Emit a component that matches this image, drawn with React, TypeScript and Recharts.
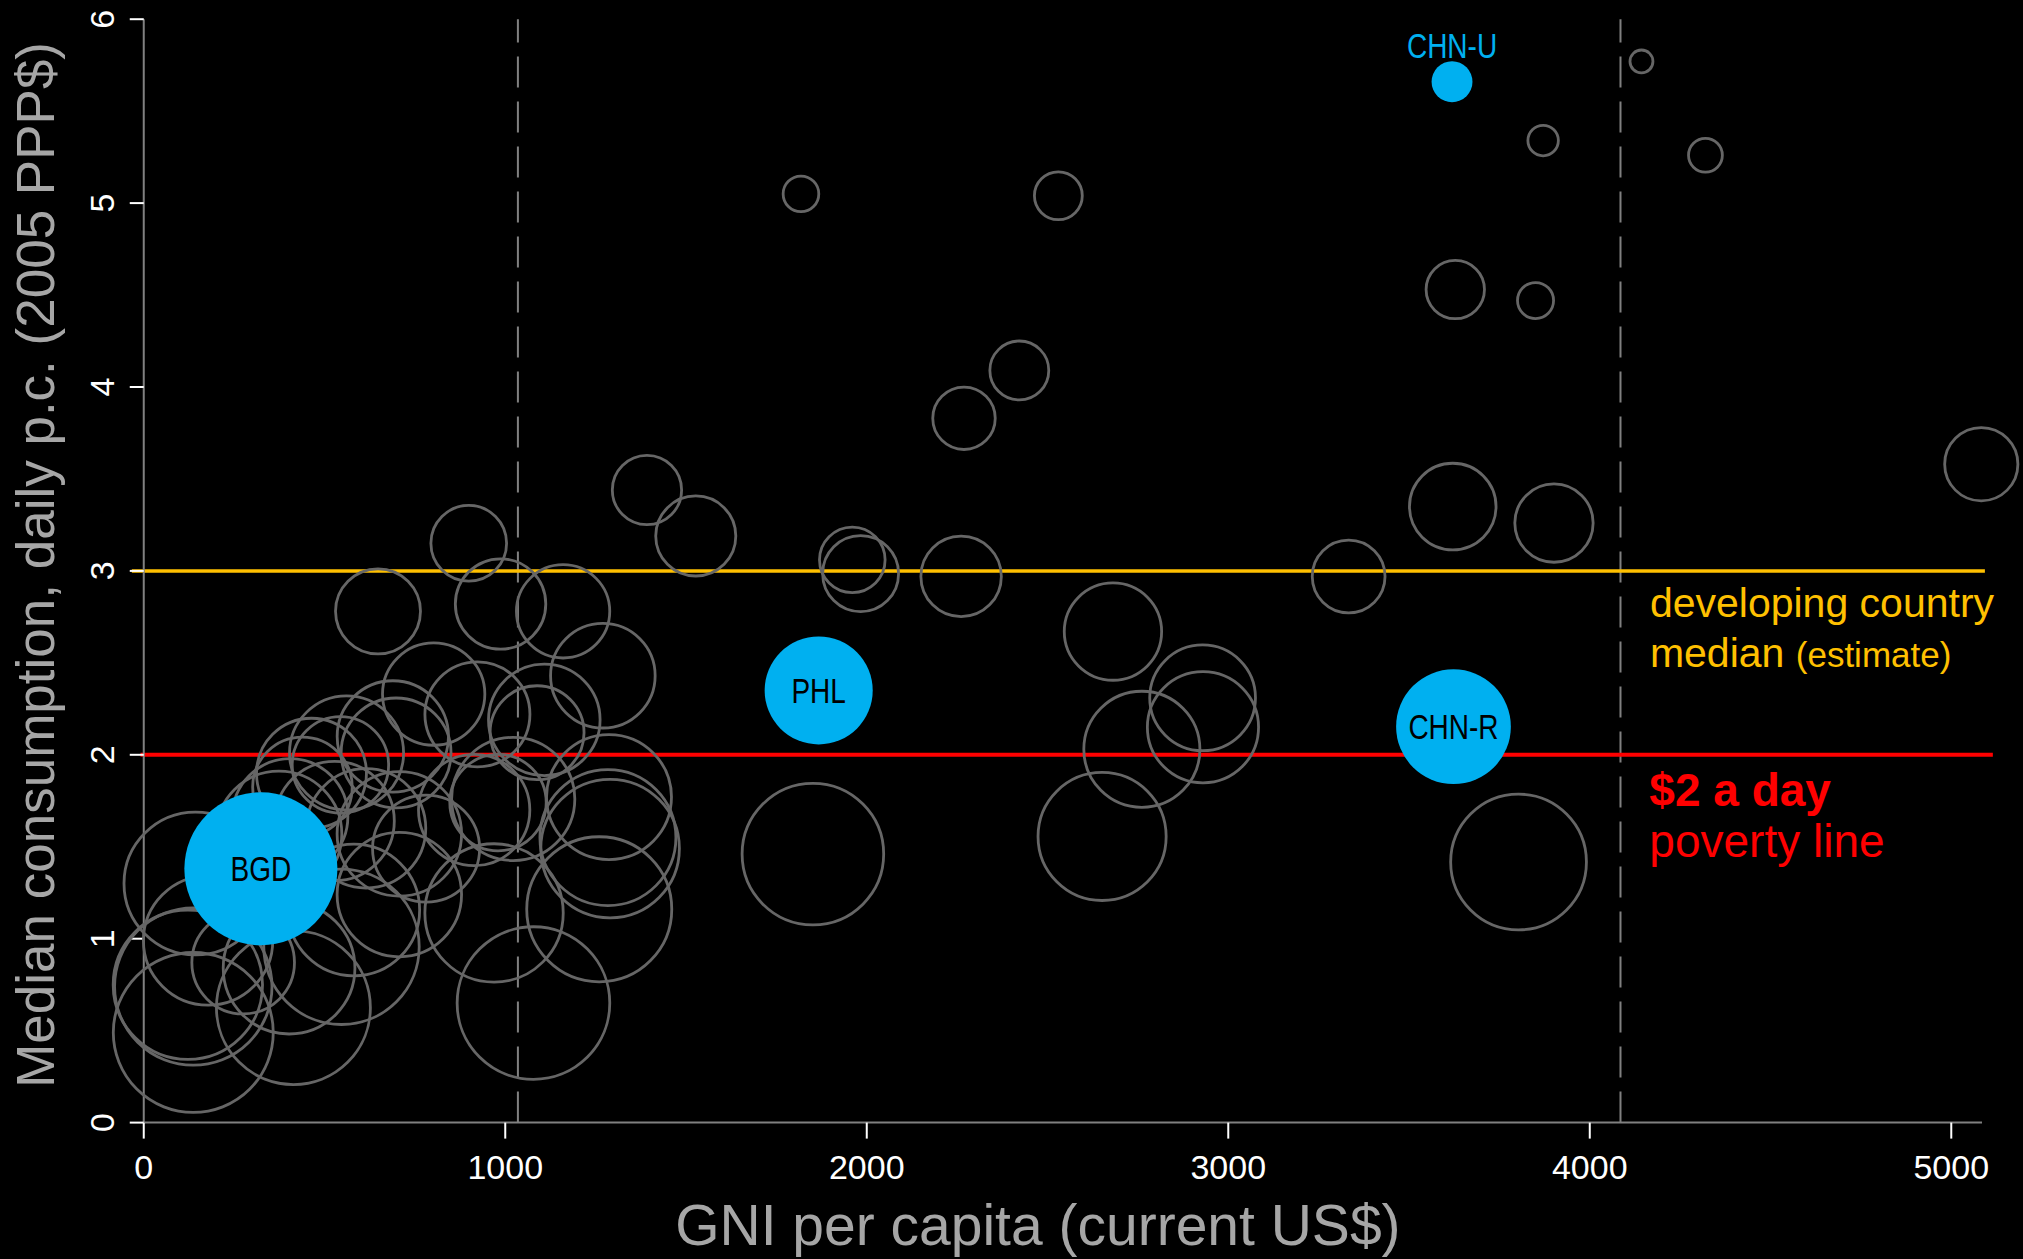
import { ScatterChart, Scatter, XAxis, YAxis, ZAxis, ReferenceLine, Label } from 'recharts'

// grey bubbles: GNI per capita, median daily consumption, $2-a-day headcount (%)
const otherGni = [
  1818, 2530, 4143, 3871, 4320, 3628, 3850, 3621, 3901, 5083,
  3333, 2422, 2269, 1527, 1392, 899, 648, 987, 1160, 1270,
  1960, 1983, 2261, 2681, 1851, 2651, 2761, 2929, 2930, 3803,
  1078, 1260, 969, 1287, 1284, 1290, 802, 923, 1108, 1088,
  1022, 980, 914, 143, 137, 122, 137, 178, 275, 414,
  402, 547, 581, 707, 689, 698, 561, 544, 464, 439,
  405, 374, 528, 615, 707, 781,
]
const otherMedian = [
  5.05, 5.04, 5.77, 5.34, 5.26, 4.53, 4.47, 3.35, 3.26, 3.58,
  2.97, 4.09, 3.83, 3.19, 3.44, 3.15, 2.78, 2.82, 2.78, 2.43,
  3.06, 2.985, 2.97, 2.67, 1.46, 1.556, 2.03, 2.31, 2.15, 1.417,
  0.65, 1.16, 1.14, 1.77, 1.55, 1.49, 2.33, 2.22, 2.19, 2.12,
  1.76, 1.74, 1.7, 1.3, 0.74, 0.75, 0.49, 0.99, 0.87, 0.625,
  0.84, 0.956, 1.156, 1.24, 2.1, 2.01, 2.01, 1.945, 1.9, 1.825,
  1.665, 1.57, 1.64, 1.6, 1.57, 1.49,
]
const otherHeadcount = [
  4.1, 7.4, 1.7, 3.0, 3.7, 11.0, 4.2, 24.2, 19.8, 17.3,
  17.1, 11.2, 12.6, 20.7, 15.5, 18.5, 23.3, 26.4, 28.1, 35.3,
  13.9, 18.6, 20.9, 30.6, 64.7, 53, 43.5, 36.1, 39.9, 59.5,
  75.2, 67.9, 61.8, 50.4, 59.7, 62, 33.8, 35.6, 40.2, 28.5,
  49, 30, 40, 65.9, 80, 72, 82.6, 54, 34, 76.5,
  56, 78, 56, 50, 40, 39, 42, 30, 39, 32,
  43, 51, 46, 46, 50, 37,
]

// highlighted countries
const focusCodes = ['BGD', 'PHL', 'CHN-R', 'CHN-U']
const focusGni = [324, 1867, 3623, 3619]
const focusMedian = [1.38, 2.35, 2.153, 5.66]
const focusHeadcount = [75.6, 37.7, 42.5, 5.4]

const xTicks = [0, 1000, 2000, 3000, 4000, 5000]
const yTicks = [0, 1, 2, 3, 4, 5, 6]
const incomeThresholds = [1035, 4085]
const povertyLine = 2
const developingMedian = 3

const others = otherGni.map((gni, i) => ({ gni, median: otherMedian[i], headcount: otherHeadcount[i] }))
const focus = focusCodes.map((code, i) => ({
  code,
  gni: focusGni[i],
  median: focusMedian[i],
  headcount: focusHeadcount[i],
}))

const BLUE = '#00B0F0'
const GOLD = '#FFC000'
const RED = '#FF0000'
const RING = '#666666'
const AXIS = '#808080'
const TITLE = '#a6a6a6'
const FONT = '"Liberation Sans", Arial, sans-serif'
const FULL_R = 88 // radius of a bubble at 100% headcount

function OpenBubble(props: any) {
  const { cx, cy, width } = props
  return <circle cx={cx} cy={cy} r={width / 2} fill="none" stroke={RING} strokeWidth={2.8} />
}

function FocusBubble(props: any) {
  const { cx, cy, width, payload } = props
  const r = width / 2
  const above = payload.code === 'CHN-U'
  // condensed look: squeeze the label horizontally
  return (
    <g>
      <circle cx={cx} cy={cy} r={r} fill={BLUE} />
      <text
        transform={`translate(${cx},${above ? cy - r - 3 : cy}) scale(0.8,1)`}
        textAnchor="middle"
        dominantBaseline={above ? 'auto' : 'central'}
        fontFamily={FONT}
        fontSize={35}
        fill={above ? BLUE : '#000'}
      >
        {payload.code}
      </text>
    </g>
  )
}

function YTick(props: any) {
  const { x, y, payload } = props
  return (
    <text
      transform={`translate(${x - 28},${y}) rotate(-90)`}
      textAnchor="middle"
      dominantBaseline="central"
      fill="#fff"
      fontSize={34}
      fontFamily={FONT}
    >
      {payload.value}
    </text>
  )
}

function MedianNote({ viewBox }: any) {
  const x = viewBox.x + viewBox.width - 335
  const y = viewBox.y
  return (
    <text fill={GOLD} fontFamily={FONT} fontSize={41}>
      <tspan x={x} y={y + 46}>developing country</tspan>
      <tspan x={x} y={y + 96}>
        median <tspan fontSize={35}>(estimate)</tspan>
      </tspan>
    </text>
  )
}

function PovertyNote({ viewBox }: any) {
  const x = viewBox.x + viewBox.width - 343.5
  const y = viewBox.y
  return (
    <text fill={RED} fontFamily={FONT} fontSize={46}>
      <tspan x={x} y={y + 51} fontWeight="bold">$2 a day</tspan>
      <tspan x={x} y={y + 102}>poverty line</tspan>
    </text>
  )
}

export default function App() {
  return (
    <div
      style={{
        position: 'fixed',
        left: 0,
        top: 0,
        width: 2023,
        height: 1259,
        background: '#000',
        fontFamily: FONT,
      }}
    >
      <ScatterChart width={2023} height={1259} margin={{ top: 19.2, right: 41, bottom: 0, left: 0 }}>
        <XAxis
          type="number"
          dataKey="gni"
          domain={[0, 5085]}
          ticks={xTicks}
          height={136.4}
          tickSize={16}
          tickMargin={16}
          axisLine={{ stroke: AXIS, strokeWidth: 2 }}
          tickLine={{ stroke: '#fff', strokeWidth: 2 }}
          tick={{ fill: '#fff', fontSize: 34, fontFamily: FONT }}
        >
          <Label
            content={({ viewBox }: any) => (
              <text
                x={viewBox.x + viewBox.width / 2 - 25}
                y={viewBox.y + 122}
                textAnchor="middle"
                fill={TITLE}
                fontSize={57}
                fontFamily={FONT}
              >
                GNI per capita (current US$)
              </text>
            )}
          />
        </XAxis>
        <YAxis
          type="number"
          dataKey="median"
          domain={[0, 6]}
          ticks={yTicks}
          width={143.75}
          tickSize={14}
          tickMargin={0}
          axisLine={{ stroke: AXIS, strokeWidth: 2 }}
          tickLine={{ stroke: '#fff', strokeWidth: 2 }}
          tick={<YTick />}
        >
          <Label
            content={({ viewBox }: any) => (
              <text
                transform={`translate(${viewBox.x + 53.6},${viewBox.y + viewBox.height / 2 - 6}) rotate(-90)`}
                textAnchor="middle"
                fill={TITLE}
                fontSize={53}
                fontFamily={FONT}
              >
                Median consumption, daily p.c. (2005 PPP$)
              </text>
            )}
          />
        </YAxis>
        <ZAxis type="number" dataKey="headcount" domain={[0, 100]} range={[0, Math.PI * FULL_R * FULL_R]} />

        {incomeThresholds.map((t) => (
          <ReferenceLine key={t} x={t} stroke={AXIS} strokeWidth={2} strokeDasharray="31 14" />
        ))}
        <ReferenceLine
          segment={[{ x: -33, y: developingMedian }, { x: 5093, y: developingMedian }]}
          ifOverflow="visible"
          stroke={GOLD}
          strokeWidth={3.5}
          label={MedianNote}
        />
        <ReferenceLine
          segment={[{ x: -9, y: povertyLine }, { x: 5115, y: povertyLine }]}
          ifOverflow="visible"
          stroke={RED}
          strokeWidth={4}
          label={PovertyNote}
        />

        <Scatter data={others} shape={OpenBubble} isAnimationActive={false} />
        <Scatter data={focus} shape={FocusBubble} isAnimationActive={false} />
      </ScatterChart>
    </div>
  )
}
